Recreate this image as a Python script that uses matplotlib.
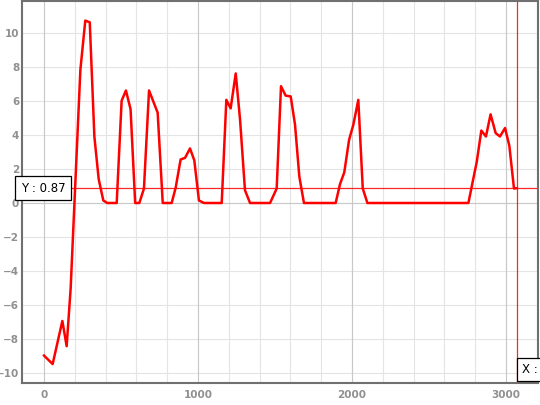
import matplotlib
matplotlib.use("Agg")
import matplotlib.pyplot as plt
from matplotlib.ticker import MultipleLocator

# values
xs = [0, 56, 119, 147, 173, 236, 268, 297, 327, 355, 385, 411, 472, 504, 532, 562,
      592, 619, 649, 682, 738, 771, 829, 855, 887, 916, 948, 976, 1006, 1039, 1154,
      1184, 1212, 1245, 1273, 1305, 1338, 1468, 1511, 1539, 1569, 1602, 1630, 1658,
      1688, 1894, 1922, 1950, 1981, 2009, 2041, 2070, 2100, 2756, 2784, 2810, 2840,
      2870, 2900, 2933, 2961, 2994, 3022, 3052, 3069]
ys = [-8.95, -9.45, -6.92, -8.4, -5.0, 7.8, 10.7, 10.6, 3.9, 1.4, 0.15, 0, 0, 6.0,
      6.6, 5.5, 0, 0, 0.85, 6.6, 5.3, 0, 0, 0.9, 2.55, 2.65, 3.2, 2.5, 0.15, 0, 0,
      6.05, 5.55, 7.6, 4.9, 0.75, 0, 0, 0.85, 6.85, 6.3, 6.25, 4.6, 1.55, 0, 0, 1.1,
      1.8, 3.7, 4.6, 6.05, 0.85, 0, 0, 1.25, 2.4, 4.25, 3.9, 5.2, 4.1, 3.9, 4.4,
      3.35, 0.85, 0.87]
cross_x = 3069
cross_y = 0.87

fig = plt.figure(figsize=(5.4, 4.05), dpi=100)
ax = fig.add_axes([22 / 540, 22 / 405, 516 / 540, 382 / 405])
ax.set_xlim(-143, 3208)
ax.set_ylim(-10.56, 11.85)

ax.xaxis.set_major_locator(MultipleLocator(1000))
ax.xaxis.set_minor_locator(MultipleLocator(200))
ax.yaxis.set_major_locator(MultipleLocator(2))
ax.grid(True, which="both", color="#e4e4e4", lw=0.8)
for v in [0, 1000, 2000, 3000]:
    ax.axvline(v, color="#c8c8c8", lw=0.8, zorder=1)
ax.axhline(0, color="#c8c8c8", lw=0.8, zorder=1)
ax.set_axisbelow(True)

ax.tick_params(which="both", length=0, labelsize=7.5, labelcolor="#909090")
ax.tick_params(axis="y", pad=2)
ax.tick_params(axis="x", pad=5)
for lab in ax.get_xticklabels() + ax.get_yticklabels():
    lab.set_fontweight("bold")
for s in ax.spines.values():
    s.set_color("#707070")
    s.set_linewidth(1.5)

ax.plot(xs, ys, color="red", lw=1.8, zorder=3)
ax.axhline(cross_y, color="red", lw=0.9, alpha=0.85, zorder=2)
ax.axvline(cross_x, color="red", lw=0.9, alpha=0.85, zorder=2)

box = dict(boxstyle="square,pad=0.45", fc="white", ec="black", lw=0.9)
ax.annotate("Y : %.2f" % cross_y, xy=(0, cross_y), xycoords=("axes fraction", "data"),
            xytext=(-1, 0), textcoords="offset points", fontsize=8.5,
            va="center", ha="left", bbox=box, zorder=5, annotation_clip=False)
ax.annotate("X : %d" % cross_x, xy=(cross_x, 0), xycoords=("data", "axes fraction"),
            xytext=(4, 5), textcoords="offset points", fontsize=8.5,
            va="bottom", ha="left", bbox=box, zorder=5, annotation_clip=False)

fig.savefig("out.png", dpi=100)
